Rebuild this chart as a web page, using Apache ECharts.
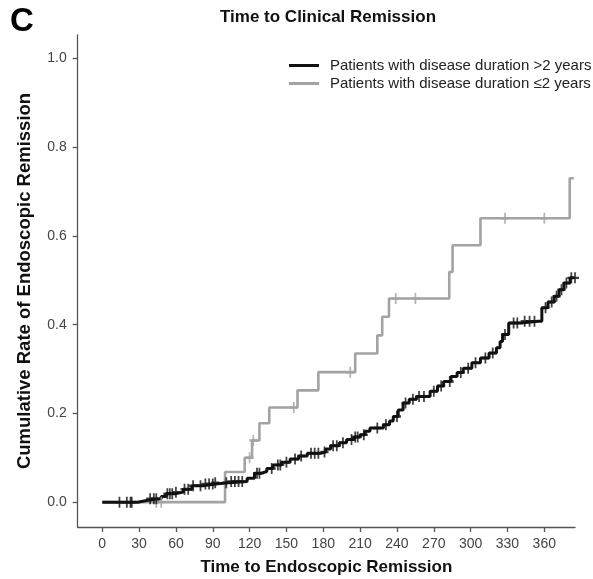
<!DOCTYPE html>
<html>
<head>
<meta charset="utf-8">
<script src="https://cdn.jsdelivr.net/npm/echarts@6/dist/echarts.min.js"></script>
<style>
  html, body { margin: 0; padding: 0; background: #fff; }
  #chart { width: 593px; height: 579px; }
</style>
</head>
<body>
<div id="chart"></div>
<script>
// Kaplan-Meier style curves (days, cumulative rate)
const longTimes = [0, 29, 37, 48, 52, 59, 66, 73, 82, 92, 103, 118, 124, 129, 134, 139, 146, 153, 160, 167, 177, 182, 186, 193, 199, 205, 210, 214, 218, 229, 234, 237, 241, 245, 250, 256, 267, 273, 278, 284, 289, 294, 301, 308, 315, 321, 324, 326, 331, 341, 355, 358, 363, 368, 372, 376, 381, 384];
const longRates = [0, 0.0045, 0.0075, 0.0126, 0.019, 0.0226, 0.029, 0.0368, 0.041, 0.044, 0.0465, 0.054, 0.065, 0.069, 0.076, 0.084, 0.09, 0.097, 0.104, 0.11, 0.113, 0.12, 0.127, 0.134, 0.141, 0.147, 0.152, 0.16, 0.167, 0.1745, 0.183, 0.193, 0.208, 0.2235, 0.232, 0.238, 0.25, 0.262, 0.272, 0.283, 0.292, 0.302, 0.314, 0.325, 0.336, 0.348, 0.362, 0.378, 0.404, 0.408, 0.408, 0.438, 0.451, 0.464, 0.479, 0.494, 0.5056, 0.5056];
const longCensored = [14, 20, 23, 24, 39, 42, 44, 53, 55, 57, 60, 67, 70, 74, 80, 84, 87, 90, 92, 101, 105, 108, 111, 114, 126, 128, 138, 143, 145, 150, 157, 162, 170, 173, 176, 181, 188, 191, 196, 203, 206, 208, 213, 224, 231, 240, 247, 253, 258, 262, 270, 276, 283, 292, 298, 304, 312, 318, 328, 335, 338, 344, 348, 352, 361, 366, 370, 374, 378, 382, 385];

const shortTimes = [0, 100, 116, 122, 128, 136, 159, 176, 206, 224, 228, 233.5, 282.6, 285.3, 308, 380.7, 384];
const shortRates = [0, 0.068, 0.10, 0.139, 0.178, 0.2135, 0.252, 0.293, 0.335, 0.376, 0.418, 0.459, 0.519, 0.579, 0.64, 0.73, 0.73];
const shortCensored = [44, 48, 120, 123, 156, 202, 239, 255, 328, 360];

const xTicks = [0, 30, 60, 90, 120, 150, 180, 210, 240, 270, 300, 330, 360];
const yTicks = [0, 0.2, 0.4, 0.6, 0.8, 1.0];

const nameLong = 'Patients with disease duration >2 years';
const nameShort = 'Patients with disease duration \u22642 years';

const FONT = "'Liberation Sans', Arial, sans-serif";
// plus-shaped censoring mark, drawn as a filled path
const CROSS = 'path://M3.9,0h2.2v10h-2.2z M0,3.9h10v2.2h-10z';

// curve level at a censoring time
const levelAt = (times, rates, t) => {
  let v = rates[0];
  for (let i = 0; i < times.length; i++) {
    if (times[i] <= t) v = rates[i];
  }
  return v;
};

const pairs = (times, rates) => times.map((t, i) => [t, rates[i]]);
const marks = (cens, times, rates) => cens.map((t) => [t, levelAt(times, rates, t)]);

const chart = echarts.init(document.getElementById('chart'));

const option = {
  animation: false,
  textStyle: { fontFamily: FONT },
  title: [
    {
      text: 'C',
      left: 5,
      top: 0,
      textStyle: { fontSize: 33, fontWeight: 'bold', color: '#000', fontFamily: FONT }
    },
    {
      text: 'Time to Clinical Remission',
      left: 323,
      top: 4,
      textAlign: 'center',
      textStyle: { fontSize: 17, fontWeight: 'bold', color: '#111', fontFamily: FONT }
    }
  ],
  legend: {
    orient: 'vertical',
    left: 289,
    top: 58,
    padding: 0,
    icon: 'rect',
    itemWidth: 30,
    itemHeight: 3,
    itemGap: 3,
    data: [nameLong, nameShort],
    textStyle: { fontSize: 15, color: '#222', lineHeight: 15, padding: [0, 0, 0, 6], fontFamily: FONT }
  },
  grid: { left: 77.7, right: 18, top: 35, bottom: 52, outerBoundsMode: 'none', containLabel: false },
  xAxis: {
    type: 'value',
    min: -20,
    max: 385,
    name: 'Time to Endoscopic Remission',
    nameLocation: 'middle',
    nameGap: 32,
    nameTextStyle: { fontSize: 17, fontWeight: 'bold', color: '#111', fontFamily: FONT },
    axisLine: { show: true, onZero: false, lineStyle: { color: '#555', width: 1.3 } },
    axisTick: { show: true, length: 5, customValues: xTicks, lineStyle: { color: '#555', width: 1.3 } },
    axisLabel: { customValues: xTicks, fontSize: 14, color: '#444', margin: 10, fontFamily: FONT },
    splitLine: { show: false }
  },
  yAxis: {
    type: 'value',
    min: -0.056,
    max: 1.053,
    name: 'Cumulative Rate of Endoscopic Remission',
    nameLocation: 'middle',
    nameGap: 43,
    nameRotate: 90,
    nameTextStyle: { fontSize: 18.5, fontWeight: 'bold', color: '#111', fontFamily: FONT },
    axisLine: { show: true, onZero: false, lineStyle: { color: '#555', width: 1.3 } },
    axisTick: { show: true, length: 5, customValues: yTicks, lineStyle: { color: '#555', width: 1.3 } },
    axisLabel: {
      customValues: yTicks,
      fontSize: 14,
      color: '#444',
      margin: 11,
      fontFamily: FONT,
      formatter: (v) => v.toFixed(1)
    },
    splitLine: { show: false }
  },
  series: [
    {
      name: nameShort,
      type: 'line',
      step: 'end',
      showSymbol: false,
      color: '#a3a3a3',
      lineStyle: { color: '#a3a3a3', width: 2.6 },
      data: pairs(shortTimes, shortRates),
      z: 2
    },
    {
      name: nameLong,
      type: 'line',
      step: 'end',
      showSymbol: false,
      color: '#111',
      lineStyle: { color: '#111', width: 3 },
      data: pairs(longTimes, longRates),
      z: 3
    },
    {
      name: 'short-censored',
      type: 'scatter',
      symbol: CROSS,
      symbolSize: [8, 11],
      itemStyle: { color: '#a3a3a3' },
      data: marks(shortCensored, shortTimes, shortRates),
      z: 4
    },
    {
      name: 'long-censored',
      type: 'scatter',
      symbol: CROSS,
      symbolSize: [8, 11],
      itemStyle: { color: '#111' },
      data: marks(longCensored, longTimes, longRates),
      z: 5
    }
  ]
};

chart.setOption(option);
</script>
</body>
</html>
